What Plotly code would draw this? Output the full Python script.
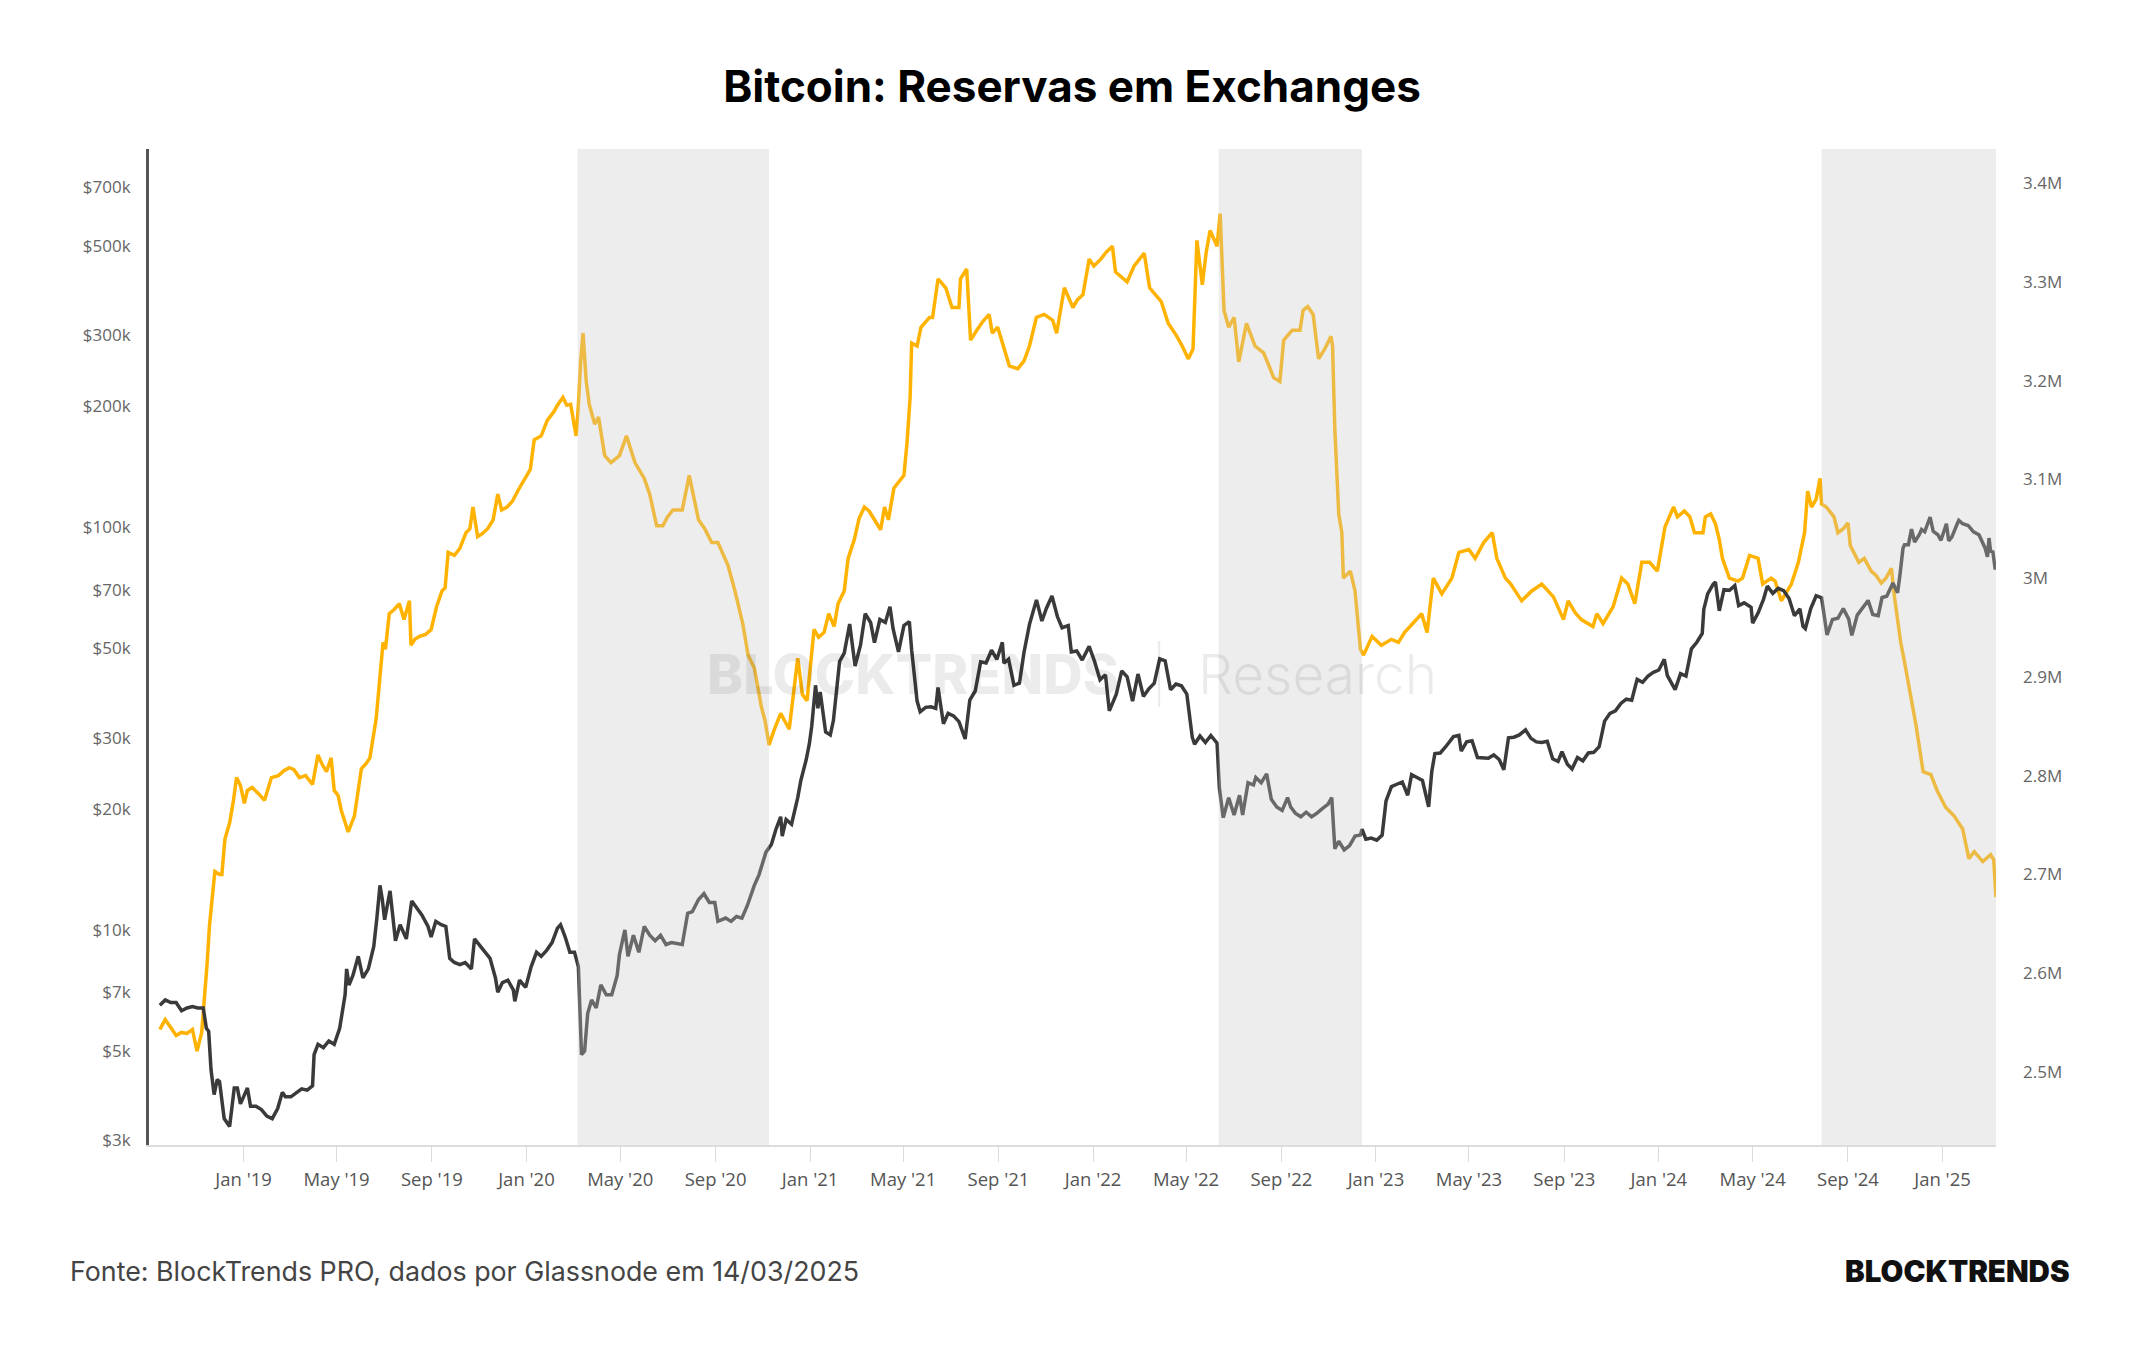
import plotly.graph_objects as go

# ---------------- DATA ----------------
price_dates = [
    "2018-09-15","2018-09-22","2018-09-29","2018-10-06","2018-10-13","2018-10-20","2018-10-27","2018-11-03","2018-11-10","2018-11-14",
    "2018-11-17","2018-11-20","2018-11-24","2018-11-28","2018-12-01","2018-12-07","2018-12-14","2018-12-20","2018-12-24","2018-12-28",
    "2019-01-01","2019-01-06","2019-01-10","2019-01-17","2019-01-24","2019-01-31","2019-02-07","2019-02-14","2019-02-20","2019-02-24",
    "2019-03-03","2019-03-10","2019-03-17","2019-03-24","2019-03-31","2019-04-02","2019-04-07","2019-04-14","2019-04-21","2019-04-28",
    "2019-05-05","2019-05-12","2019-05-14","2019-05-17","2019-05-22","2019-05-29","2019-06-04","2019-06-11","2019-06-18","2019-06-22",
    "2019-06-26","2019-06-29","2019-07-02","2019-07-09","2019-07-16","2019-07-22","2019-07-30","2019-08-06","2019-08-12","2019-08-19",
    "2019-08-27","2019-08-31","2019-09-06","2019-09-13","2019-09-19","2019-09-24","2019-09-30","2019-10-07","2019-10-14","2019-10-22",
    "2019-10-26","2019-11-01","2019-11-08","2019-11-15","2019-11-22","2019-11-25","2019-12-01","2019-12-08","2019-12-15","2019-12-17",
    "2019-12-23","2019-12-31",
    "2020-01-07","2020-01-14","2020-01-20","2020-01-27","2020-02-03","2020-02-10","2020-02-14","2020-02-20","2020-02-26","2020-03-03",
    "2020-03-08","2020-03-12","2020-03-16","2020-03-20","2020-03-25","2020-03-31","2020-04-06","2020-04-13","2020-04-20","2020-04-27",
    "2020-04-30","2020-05-07","2020-05-11","2020-05-18","2020-05-25","2020-06-01","2020-06-08","2020-06-15","2020-06-22","2020-06-29",
    "2020-07-06","2020-07-13","2020-07-20","2020-07-27","2020-08-02","2020-08-10","2020-08-17","2020-08-24","2020-08-31","2020-09-04",
    "2020-09-14","2020-09-21","2020-09-28","2020-10-05","2020-10-12","2020-10-21","2020-10-27","2020-11-05","2020-11-12","2020-11-18",
    "2020-11-24","2020-11-26","2020-12-01","2020-12-08","2020-12-16","2020-12-20","2020-12-27","2020-12-31",
    "2021-01-03","2021-01-08","2021-01-11","2021-01-14","2021-01-21","2021-01-27","2021-01-31","2021-02-08","2021-02-14","2021-02-21",
    "2021-02-28","2021-03-07","2021-03-13","2021-03-20","2021-03-25","2021-04-01","2021-04-08","2021-04-14","2021-04-18","2021-04-25",
    "2021-05-02","2021-05-09","2021-05-12","2021-05-19","2021-05-23","2021-05-30","2021-06-06","2021-06-12","2021-06-15","2021-06-22",
    "2021-06-28","2021-07-05","2021-07-12","2021-07-20","2021-07-26","2021-08-02","2021-08-09","2021-08-16","2021-08-23","2021-08-30",
    "2021-09-06","2021-09-08","2021-09-14","2021-09-21","2021-09-28","2021-10-04","2021-10-11","2021-10-20","2021-10-27","2021-11-02",
    "2021-11-09","2021-11-16","2021-11-22","2021-11-30","2021-12-04","2021-12-11","2021-12-18","2021-12-27",
    "2022-01-03","2022-01-10","2022-01-17","2022-01-22","2022-01-31","2022-02-07","2022-02-14","2022-02-21","2022-02-28","2022-03-07",
    "2022-03-14","2022-03-21","2022-03-28","2022-04-04","2022-04-11","2022-04-18","2022-04-25","2022-05-02","2022-05-09","2022-05-12",
    "2022-05-19","2022-05-26","2022-06-02","2022-06-10","2022-06-13","2022-06-18","2022-06-25","2022-07-02","2022-07-09","2022-07-13",
    "2022-07-20","2022-07-27","2022-07-30","2022-08-06","2022-08-13","2022-08-19","2022-08-26","2022-09-02","2022-09-09","2022-09-13",
    "2022-09-19","2022-09-26","2022-10-03","2022-10-10","2022-10-17","2022-10-25","2022-10-31","2022-11-05","2022-11-09","2022-11-14",
    "2022-11-21","2022-11-28","2022-12-05","2022-12-12","2022-12-14","2022-12-19","2022-12-26",
    "2023-01-02","2023-01-09","2023-01-14","2023-01-21","2023-01-28","2023-02-04","2023-02-11","2023-02-16","2023-02-23","2023-03-02",
    "2023-03-10","2023-03-14","2023-03-18","2023-03-25","2023-04-01","2023-04-11","2023-04-18","2023-04-21","2023-04-28","2023-05-05",
    "2023-05-12","2023-05-19","2023-05-26","2023-06-02","2023-06-09","2023-06-15","2023-06-21","2023-06-28","2023-07-05","2023-07-13",
    "2023-07-20","2023-07-27","2023-08-03","2023-08-10","2023-08-17","2023-08-24","2023-08-29","2023-09-05","2023-09-11","2023-09-18",
    "2023-09-25","2023-10-02","2023-10-09","2023-10-16","2023-10-23","2023-10-30","2023-11-06","2023-11-13","2023-11-20","2023-11-27",
    "2023-12-04","2023-12-11","2023-12-18","2023-12-25",
    "2024-01-01","2024-01-08","2024-01-12","2024-01-22","2024-01-29","2024-02-05","2024-02-12","2024-02-19","2024-02-26","2024-02-28",
    "2024-03-04","2024-03-11","2024-03-14","2024-03-19","2024-03-25","2024-04-01","2024-04-08","2024-04-13","2024-04-20","2024-04-29",
    "2024-05-01","2024-05-08","2024-05-15","2024-05-20","2024-05-27","2024-06-03","2024-06-10","2024-06-17","2024-06-24","2024-07-01",
    "2024-07-05","2024-07-08","2024-07-15","2024-07-22","2024-07-29","2024-08-05","2024-08-12","2024-08-19","2024-08-26","2024-09-02",
    "2024-09-06","2024-09-13","2024-09-20","2024-09-27","2024-10-03","2024-10-10","2024-10-15","2024-10-21","2024-10-29","2024-11-04",
    "2024-11-07","2024-11-11","2024-11-13","2024-11-18","2024-11-22","2024-11-26","2024-12-02","2024-12-05","2024-12-09","2024-12-16",
    "2024-12-20","2024-12-26","2024-12-30",
    "2025-01-06","2025-01-09","2025-01-13","2025-01-20","2025-01-22","2025-01-27","2025-02-03","2025-02-10","2025-02-17","2025-02-25",
    "2025-02-28","2025-03-02","2025-03-04","2025-03-07","2025-03-10","2025-03-11",
]
price_values = [
    6500,6700,6600,6600,6300,6400,6450,6400,6400,5700,
    5600,4500,3900,4250,4200,3400,3250,4050,4050,3700,
    3850,4050,3650,3650,3580,3450,3400,3600,3950,3850,
    3850,3950,4030,4000,4100,4900,5200,5100,5300,5200,
    5700,6900,8000,7300,7700,8600,7600,8000,9100,10700,
    12900,11900,10600,12500,9400,10300,9500,11800,11400,10900,
    10200,9600,10500,10300,10200,8500,8300,8200,8300,8000,
    9500,9200,8800,8500,7600,7000,7400,7500,7100,6650,
    7500,7200,
    8100,8800,8600,8900,9300,10100,10300,9600,8800,8800,
    8100,4900,5000,6200,6700,6400,7300,6900,6900,7700,
    8700,10000,8600,9700,8800,10200,9700,9400,9700,9200,
    9300,9250,9200,11000,11100,11900,12300,11700,11700,10500,
    10700,10500,10800,10700,11500,12900,13700,15600,16300,17800,
    19100,17100,18800,18300,21300,23500,26500,29000,
    32000,40500,35500,39000,31000,30500,33100,46400,48700,57500,
    45200,51000,61000,58000,51700,59000,58000,63500,56000,49000,
    57000,58300,49500,37000,34800,35700,35800,35500,40000,32500,
    34500,34000,32900,29800,37200,39200,46300,46000,49500,47000,
    51800,46000,47000,40500,41000,49000,57400,66000,58500,63000,
    67500,60000,56300,57000,49000,49300,46800,50600,
    46400,41800,43000,35000,38500,44000,42500,37000,43200,38000,
    39700,41000,47100,46600,39500,40800,40400,38500,30100,28900,
    30300,29200,30400,29100,22500,19000,21300,19300,21600,19300,
    23200,22900,23900,23200,24400,21100,20200,19800,21300,20200,
    19500,19100,19600,19100,19500,20100,20500,21300,15900,16600,
    15800,16200,17100,17200,17800,16800,16900,
    16700,17200,20900,22700,23000,23300,21600,24300,23900,23500,
    20200,24700,27400,27500,28500,30200,30400,27800,29300,29500,
    26800,26800,26700,27200,26500,25000,30000,30100,30500,31400,
    29900,29300,29200,29400,26600,26200,27700,25800,25100,26800,
    26300,27500,27600,28500,33000,34500,35000,36500,37400,37200,
    41900,41200,42700,43600,
    44200,47000,42800,39500,43300,42700,49900,51800,54500,62500,
    68300,72100,73100,62000,70000,69700,71600,63900,64900,63300,
    57800,61200,66200,71400,68500,70500,69600,66500,60300,62700,
    56700,56000,62800,67600,66800,54000,59000,59400,62800,59100,
    53900,60500,63000,65800,60700,60300,66900,67400,72700,68700,
    75900,88700,90500,90500,98900,91900,95800,98700,97400,106000,
    97700,95800,92800,
    102000,92500,94500,102000,104000,102000,101000,97400,95800,88700,
    84400,94000,87200,86800,78500,81000,
]

reserve_dates = [
    "2018-09-15","2018-09-22","2018-09-29","2018-10-06","2018-10-13","2018-10-20","2018-10-27","2018-11-02","2018-11-08","2018-11-12",
    "2018-11-15","2018-11-18","2018-11-25","2018-12-01","2018-12-04","2018-12-08","2018-12-14","2018-12-19","2018-12-23","2018-12-28",
    "2019-01-02","2019-01-06","2019-01-12","2019-01-20","2019-01-28","2019-02-06","2019-02-15","2019-02-22","2019-03-01","2019-03-07",
    "2019-03-14","2019-03-22","2019-03-31","2019-04-07","2019-04-12","2019-04-18","2019-04-24","2019-04-28","2019-05-03","2019-05-07",
    "2019-05-12","2019-05-16","2019-05-24","2019-06-02","2019-06-08","2019-06-13","2019-06-21","2019-06-26","2019-06-30","2019-07-03",
    "2019-07-08","2019-07-14","2019-07-21","2019-07-27","2019-08-03","2019-08-05","2019-08-10","2019-08-16","2019-08-24","2019-08-31",
    "2019-09-07","2019-09-14","2019-09-18","2019-09-22","2019-09-30","2019-10-07","2019-10-15","2019-10-20","2019-10-24","2019-10-30",
    "2019-11-05","2019-11-12","2019-11-19","2019-11-25","2019-11-30","2019-12-07","2019-12-14","2019-12-22",
    "2020-01-01","2020-01-06","2020-01-11","2020-01-20","2020-01-28","2020-02-05","2020-02-10","2020-02-17","2020-02-22","2020-02-27",
    "2020-03-05","2020-03-08","2020-03-11","2020-03-14","2020-03-18","2020-03-22","2020-03-29","2020-04-03","2020-04-11","2020-04-19",
    "2020-04-30","2020-05-09","2020-05-20","2020-06-01","2020-06-08","2020-06-17","2020-06-25","2020-07-01","2020-07-08","2020-07-20",
    "2020-07-29","2020-08-03","2020-08-10","2020-08-18","2020-08-27","2020-09-04","2020-09-10","2020-09-17","2020-09-26","2020-10-06",
    "2020-10-13","2020-10-21","2020-10-30","2020-11-04","2020-11-09","2020-11-15","2020-11-24","2020-12-05","2020-12-16","2020-12-22",
    "2020-12-28",
    "2021-01-06","2021-01-12","2021-01-19","2021-01-25","2021-02-01","2021-02-06","2021-02-14","2021-02-19","2021-02-27","2021-03-05",
    "2021-03-12","2021-03-18","2021-03-25","2021-04-02","2021-04-07","2021-04-12","2021-04-19","2021-04-26","2021-05-02","2021-05-06",
    "2021-05-10","2021-05-12","2021-05-19","2021-05-24","2021-06-04","2021-06-08","2021-06-15","2021-06-25","2021-07-03","2021-07-12",
    "2021-07-14","2021-07-22","2021-07-27","2021-08-04","2021-08-12","2021-08-20","2021-08-24","2021-08-31","2021-09-07","2021-09-15",
    "2021-09-26","2021-10-04","2021-10-11","2021-10-20","2021-10-30","2021-11-10","2021-11-15","2021-11-25","2021-12-06","2021-12-12",
    "2021-12-19","2021-12-27",
    "2022-01-02","2022-01-11","2022-01-18","2022-01-26","2022-01-30","2022-02-07","2022-02-14","2022-02-23","2022-03-08","2022-03-15",
    "2022-03-22","2022-03-30","2022-04-08","2022-04-19","2022-04-26","2022-05-04","2022-05-10","2022-05-13","2022-05-15","2022-05-22",
    "2022-05-27","2022-06-01","2022-06-10","2022-06-14","2022-06-19","2022-06-25","2022-07-02","2022-07-08","2022-07-18","2022-07-29",
    "2022-08-09","2022-08-16","2022-08-22","2022-08-30","2022-09-04","2022-09-15","2022-09-25","2022-09-29","2022-10-05","2022-10-12",
    "2022-10-19","2022-10-27","2022-11-04","2022-11-06","2022-11-09","2022-11-14","2022-11-18","2022-11-20","2022-11-29","2022-12-05",
    "2022-12-12","2022-12-16","2022-12-27",
    "2023-01-08","2023-01-21","2023-01-30","2023-02-07","2023-02-14","2023-02-22","2023-03-01","2023-03-08","2023-03-16","2023-03-27",
    "2023-04-09","2023-04-18","2023-05-01","2023-05-09","2023-05-20","2023-05-31","2023-06-06","2023-06-17","2023-06-24","2023-07-08",
    "2023-07-21","2023-08-03","2023-08-18","2023-08-31","2023-09-06","2023-09-15","2023-09-23","2023-10-08","2023-10-13","2023-10-21",
    "2023-11-03","2023-11-14","2023-11-22","2023-12-01","2023-12-10","2023-12-20","2023-12-30",
    "2024-01-09","2024-01-20","2024-01-25","2024-02-03","2024-02-10","2024-02-16","2024-02-27","2024-03-01","2024-03-08","2024-03-14",
    "2024-03-19","2024-03-23","2024-04-01","2024-04-12","2024-04-18","2024-04-27","2024-05-08","2024-05-14","2024-05-25","2024-05-30",
    "2024-06-07","2024-06-20","2024-06-29","2024-07-07","2024-07-11","2024-07-16","2024-07-22","2024-07-27","2024-07-29","2024-08-04",
    "2024-08-14","2024-08-19","2024-08-26","2024-09-01","2024-09-04","2024-09-15","2024-09-22","2024-10-01","2024-10-07","2024-10-14",
    "2024-10-20","2024-10-27","2024-10-31","2024-11-08","2024-11-13","2024-11-22","2024-11-28","2024-12-07","2024-12-17","2024-12-25",
    "2025-01-05","2025-01-16","2025-01-27","2025-02-04","2025-02-11","2025-02-22","2025-03-04","2025-03-08","2025-03-11",
]
reserve_values_m = [
    2.543,2.553,2.545,2.537,2.540,2.539,2.543,2.521,2.540,2.576,
    2.610,2.648,2.703,2.700,2.700,2.736,2.752,2.775,2.798,2.790,
    2.772,2.785,2.788,2.782,2.775,2.798,2.800,2.805,2.808,2.806,
    2.798,2.800,2.791,2.821,2.812,2.804,2.818,2.785,2.780,2.765,
    2.752,2.743,2.759,2.807,2.812,2.818,2.857,2.906,2.935,2.928,
    2.964,2.968,2.974,2.958,2.977,2.932,2.938,2.941,2.943,2.948,
    2.971,2.987,2.990,3.026,3.023,3.030,3.046,3.050,3.072,3.042,
    3.045,3.050,3.059,3.085,3.069,3.072,3.078,3.090,
    3.104,3.110,3.140,3.144,3.160,3.168,3.175,3.183,3.175,3.176,
    3.144,3.175,3.220,3.248,3.200,3.176,3.156,3.163,3.124,3.117,
    3.124,3.144,3.117,3.101,3.085,3.053,3.053,3.062,3.069,3.069,
    3.104,3.085,3.059,3.050,3.036,3.036,3.025,3.013,2.987,2.954,
    2.922,2.909,2.870,2.855,2.831,2.845,2.863,2.847,2.919,2.882,
    2.876,
    2.948,2.940,2.945,2.964,2.951,2.974,2.987,3.020,3.039,3.060,
    3.072,3.068,3.059,3.049,3.072,3.059,3.091,3.098,3.104,3.137,
    3.183,3.238,3.235,3.254,3.264,3.264,3.303,3.294,3.274,3.274,
    3.303,3.313,3.241,3.251,3.260,3.267,3.248,3.254,3.235,3.215,
    3.212,3.220,3.235,3.264,3.267,3.261,3.248,3.294,3.274,3.282,
    3.287,3.323,
    3.316,3.323,3.330,3.336,3.310,3.305,3.300,3.316,3.329,3.294,
    3.288,3.280,3.258,3.245,3.235,3.222,3.232,3.300,3.342,3.297,
    3.330,3.352,3.336,3.369,3.271,3.254,3.264,3.219,3.258,3.235,
    3.228,3.215,3.203,3.199,3.241,3.251,3.251,3.271,3.275,3.267,
    3.222,3.232,3.245,3.235,3.150,3.065,3.046,3.000,3.007,2.987,
    2.928,2.922,2.941,
    2.932,2.938,2.935,2.945,2.951,2.958,2.964,2.945,3.000,2.984,
    3.000,3.026,3.029,3.020,3.036,3.046,3.020,3.000,2.994,2.977,
    2.987,2.994,2.981,2.958,2.977,2.965,2.958,2.951,2.964,2.954,
    2.971,3.000,2.994,2.974,3.016,3.016,3.007,
    3.052,3.072,3.062,3.068,3.062,3.046,3.046,3.062,3.065,3.055,
    3.039,3.020,3.000,2.997,3.000,3.023,3.020,2.994,3.000,2.997,
    2.977,2.994,3.016,3.046,3.088,3.072,3.080,3.101,3.075,3.072,
    3.062,3.046,3.050,3.056,3.033,3.016,3.020,3.007,3.003,2.995,
    3.000,3.010,2.981,2.935,2.915,2.876,2.850,2.804,2.801,2.785,
    2.768,2.759,2.746,2.716,2.723,2.713,2.720,2.715,2.677,
]
reserve_values = [v * 1e6 for v in reserve_values_m]

x_tick_vals = ["2019-01-01","2019-05-01","2019-09-01","2020-01-01","2020-05-01","2020-09-01",
               "2021-01-01","2021-05-01","2021-09-01","2022-01-01","2022-05-01","2022-09-01",
               "2023-01-01","2023-05-01","2023-09-01","2024-01-01","2024-05-01","2024-09-01","2025-01-01"]
x_tick_text = ["Jan '19","May '19","Sep '19","Jan '20","May '20","Sep '20",
               "Jan '21","May '21","Sep '21","Jan '22","May '22","Sep '22",
               "Jan '23","May '23","Sep '23","Jan '24","May '24","Sep '24","Jan '25"]

price_tick_vals = [3000,5000,7000,10000,20000,30000,50000,70000,100000,200000,300000,500000,700000]
price_tick_text = ["$3k","$5k","$7k","$10k","$20k","$30k","$50k","$70k","$100k","$200k","$300k","$500k","$700k"]

reserve_tick_vals = [2.5e6,2.6e6,2.7e6,2.8e6,2.9e6,3.0e6,3.1e6,3.2e6,3.3e6,3.4e6]
reserve_tick_text = ["2.5M","2.6M","2.7M","2.8M","2.9M","3M","3.1M","3.2M","3.3M","3.4M"]

shaded_periods = [("2020-03-07","2020-11-09"),("2022-06-12","2022-12-14"),("2024-07-29","2025-03-11")]

# ---------------- FIGURE ----------------
fig = go.Figure()
fig.add_trace(go.Scatter(x=reserve_dates, y=reserve_values, mode="lines", yaxis="y",
                         line=dict(color="#FFB300", width=3.5), name="Reservas", showlegend=False))
fig.add_trace(go.Scatter(x=price_dates, y=price_values, mode="lines", yaxis="y2",
                         line=dict(color="#3a3a3a", width=3.5), name="Preço", showlegend=False))

for x0, x1 in shaded_periods:
    fig.add_shape(type="rect", xref="x", yref="paper", x0=x0, x1=x1, y0=0, y1=1,
                  fillcolor="rgba(201,201,201,0.335)", line=dict(width=0), layer="above")

tick_font = dict(family="Open Sans", size=17, color="#666")

fig.update_layout(
    width=2144, height=1350,
    paper_bgcolor="white", plot_bgcolor="white",
    margin=dict(l=149, r=148, t=149, b=205),
    title=dict(text="Bitcoin: Reservas em Exchanges", x=0.5, xref="container", xanchor="center",
               y=1 - 87 / 1350, yref="container", yanchor="middle",
               font=dict(family="Inter", size=44, color="#000", weight=700)),
    xaxis=dict(type="date", range=["2018-09-01", "2025-03-11"],
               tickvals=x_tick_vals, ticktext=x_tick_text, tickfont=dict(family="Open Sans", size=18.5, color="#555"),
               showline=True, linecolor="#dcdcdc", linewidth=2,
               ticks="outside", ticklen=15, tickcolor="#dcdcdc", tickwidth=1, ticklabelstandoff=2,
               showgrid=False, zeroline=False),
    yaxis=dict(side="right", range=[2.426e6, 3.4345e6],
               tickvals=reserve_tick_vals, ticktext=reserve_tick_text, tickfont=tick_font,
               showline=False, showgrid=False, zeroline=False, ticks="", ticklabelstandoff=26),
    yaxis2=dict(side="left", overlaying="y", type="log", range=[3.4659, 5.9392],
                tickvals=price_tick_vals, ticktext=price_tick_text, tickfont=tick_font,
                showline=True, linecolor="#555", linewidth=3, showgrid=False, zeroline=False,
                ticks="", ticklabelstandoff=12),
)

wm_col = "rgba(0,0,0,0.08)"
fig.add_annotation(text="BLOCKTRENDS", xref="paper", yref="paper", x=0.5263, y=0.4726,
                   xanchor="right", yanchor="middle", showarrow=False,
                   font=dict(family="Inter", size=54.5, color=wm_col, weight=800))
fig.add_annotation(text="|", xref="paper", yref="paper", x=0.5468, y=0.4726,
                   xanchor="center", yanchor="middle", showarrow=False,
                   font=dict(family="Inter", size=55, color=wm_col, weight=200))
fig.add_annotation(text="Research", xref="paper", yref="paper", x=0.5669, y=0.4726,
                   xanchor="left", yanchor="middle", showarrow=False,
                   font=dict(family="Inter", size=55, color=wm_col, weight=300))

fig.add_annotation(text="Fonte: BlockTrends PRO, dados por Glassnode em 14/03/2025",
                   xref="paper", yref="paper", x=-0.04386, y=-0.1261, xanchor="left", yanchor="middle",
                   showarrow=False, font=dict(family="Inter", size=26.8, color="#444"))
fig.add_annotation(text="BLOCKTRENDS", xref="paper", yref="paper", x=1.0412, y=-0.1261,
                   xanchor="right", yanchor="middle", showarrow=False,
                   font=dict(family="Inter", size=29.5, color="#111", weight=900))

fig.write_html("out.html")
